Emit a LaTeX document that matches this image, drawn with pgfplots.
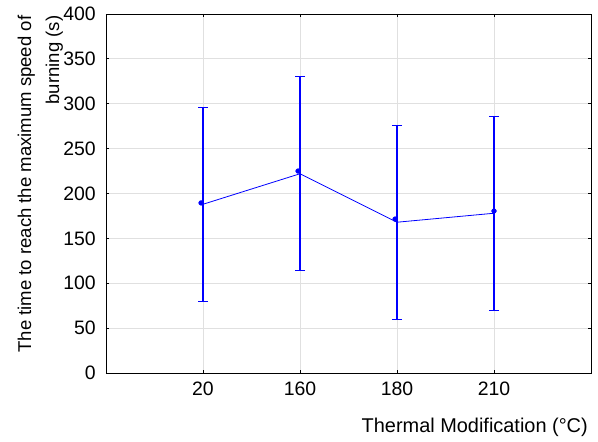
\documentclass[border=0pt]{standalone}
\usepackage{fontspec}
\setmainfont{Liberation Sans}
\usepackage{pgfplots}
\pgfplotsset{compat=1.18}
\usetikzlibrary{calc}
\definecolor{linecol}{RGB}{0,0,255}

\pgfplotstableread{
x   y
1   188
2   222
3   168
4   178
}\meansdata

% whisker ends (mean -/+ 108)
\pgfplotstableread{
x   y
1   80
1   296
1   nan
2   114
2   330
2   nan
3   60
3   276
3   nan
4   70
4   286
}\whiskers

\pgfplotstableread{
x     y
0.98  189.5
1.98  225
2.98  171.5
4.00  180.5
}\dotsdata

\begin{document}
\begin{tikzpicture}
\begin{axis}[
  scale only axis, width=485bp, height=359bp,
  xmin=0, xmax=5, ymin=0, ymax=400,
  xtick={1,2,3,4}, xticklabels={20,160,180,210},
  ytick={0,50,...,400},
  tick pos=both, tick align=inside, major tick length=3bp,
  every tick/.style={black, line width=0.8bp},
  axis line style={black, line width=0.9bp},
  grid=major, major grid style={black!12, line width=0.8bp},
  /pgf/number format/assume math mode=true,
  tick label style={font=\fontsize{19.5}{22}\selectfont, inner sep=0pt},
  yticklabel style={xshift=-10bp},
  xticklabel style={yshift=-9bp},
  xlabel={Thermal Modification (°C)},
  xlabel style={at={(rel axis cs:1,0)}, anchor=base east, inner sep=0pt,
    yshift=-59bp, xshift=-3bp, font=\fontsize{20}{24}\selectfont},
  ylabel={The time to reach the maximum speed of\\[6bp]burning (s)},
  ylabel style={at={(axis description cs:-0.0885,0.526)}, anchor=south,
    inner sep=0pt, align=right, font=\fontsize{18.6}{22}\selectfont},
  unbounded coords=jump,
]
\addplot[color=linecol, line width=1.2bp, mark=-, mark size=5bp,
  mark options={solid, line width=1.2bp, color=linecol}]
  table[x=x, y=y] {\whiskers};
\addplot[color=linecol, line width=0.8bp, mark=none]
  table[x=x, y=y] {\meansdata};
\addplot[only marks, mark=*, mark size=2.4bp, color=linecol, fill=linecol]
  table[x=x, y=y] {\dotsdata};
\end{axis}
\pgfresetboundingbox
\path[use as bounding box] ($(current axis.south west)+(-106bp,-69bp)$)
  rectangle ($(current axis.north east)+(7bp,14bp)$);
\end{tikzpicture}
\end{document}
